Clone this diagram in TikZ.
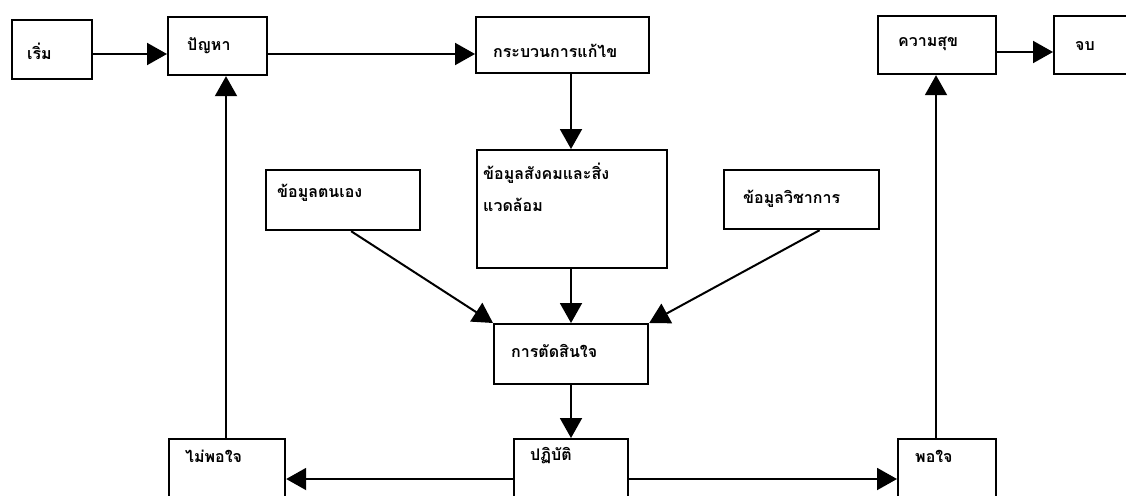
\documentclass[tikz,border=0pt]{standalone}
\usepackage{fontspec}
\newfontfamily\thaifont[Script=Thai]{Loma}
\usetikzlibrary{arrows.meta}
\begin{document}
\begin{tikzpicture}[x=1pt,y=-1pt,
  box/.style={draw=black,line width=2.2pt,anchor=north west,inner sep=0pt,fill=none},
  lbl/.style={anchor=west,inner sep=0pt,font=\thaifont\bfseries\fontsize{16}{32}\selectfont,align=left},
  arr/.style={line width=2pt,-{Triangle[length=20pt,width=22pt]}}]
\useasboundingbox[fill=white] (0,0) rectangle (1126,495);
% boxes
\node[box,minimum width=80pt,minimum height=59pt] (start) at (11,19) {};
\node[box,minimum width=99pt,minimum height=58pt] (prob) at (167,16) {};
\node[box,minimum width=173pt,minimum height=56pt] (proc) at (475,16) {};
\node[box,minimum width=118pt,minimum height=58pt] (happy) at (877,15) {};
\node[box,minimum width=80pt,minimum height=58pt] (end) at (1053,15) {};
\node[box,minimum width=154pt,minimum height=60pt] (self) at (265,169) {};
\node[box,minimum width=190pt,minimum height=118pt] (social) at (476,149) {};
\node[box,minimum width=155pt,minimum height=59pt] (acad) at (723,169) {};
\node[box,minimum width=154pt,minimum height=60pt] (dec) at (493,323) {};
\node[box,minimum width=114pt,minimum height=70pt] (act) at (513,438) {};
\node[box,minimum width=116pt,minimum height=70pt] (unsat) at (168,438) {};
\node[box,minimum width=98pt,minimum height=70pt] (sat) at (897,438) {};
% texts
\node[lbl] (tstart) at (27,51) {เริ่ม};
\node[lbl] (tprob) at (187,46) {ปัญหา};
\node[lbl] (tproc) at (493,51) {กระบวนการแก้ไข};
\node[lbl] (thappy) at (898,44) {ความสุข};
\node[lbl] (tend) at (1075,46) {จบ};
\node[lbl] (tself) at (277,193) {ข้อมูลตนเอง};
\node[lbl,anchor=north west] (tsocial) at (483,163) {ข้อมูลสังคมและสิ่ง\\แวดล้อม};
\node[lbl] (tacad) at (743,199) {ข้อมูลวิชาการ};
\node[lbl] (tdec) at (511,351) {การตัดสินใจ};
\node[lbl] (tact) at (530,456) {ปฏิบัติ};
\node[lbl] (tunsat) at (185,456) {ไม่พอใจ};
\node[lbl] (tsat) at (915,456) {พอใจ};
% helper coordinates
\coordinate (ytop) at (0,54);
\coordinate (yend) at (0,52);
\coordinate (ybot) at (0,479);
\coordinate (xmid) at (571,0);
\coordinate (xl) at (226,0);
\coordinate (xr) at (936,0);
% connectors
\draw[arr] (start.east |- ytop) -- (prob.west |- ytop);
\draw[arr] (prob.east |- ytop) -- (proc.west |- ytop);
\draw[arr] (proc.south -| xmid) -- (social.north -| xmid);
\draw[arr] (social.south -| xmid) -- (dec.north -| xmid);
\draw[arr] ([xshift=8pt]self.south) -- (dec.north west);
\draw[arr] ([xshift=18pt]acad.south) -- (dec.north east);
\draw[arr] (dec.south -| xmid) -- (act.north -| xmid);
\draw[arr] (act.west |- ybot) -- (unsat.east |- ybot);
\draw[arr] (act.east |- ybot) -- (sat.west |- ybot);
\draw[arr] (unsat.north -| xl) -- (prob.south -| xl);
\draw[arr] (sat.north -| xr) -- (happy.south -| xr);
\draw[arr] (happy.east |- yend) -- (end.west |- yend);
\end{tikzpicture}
\end{document}
